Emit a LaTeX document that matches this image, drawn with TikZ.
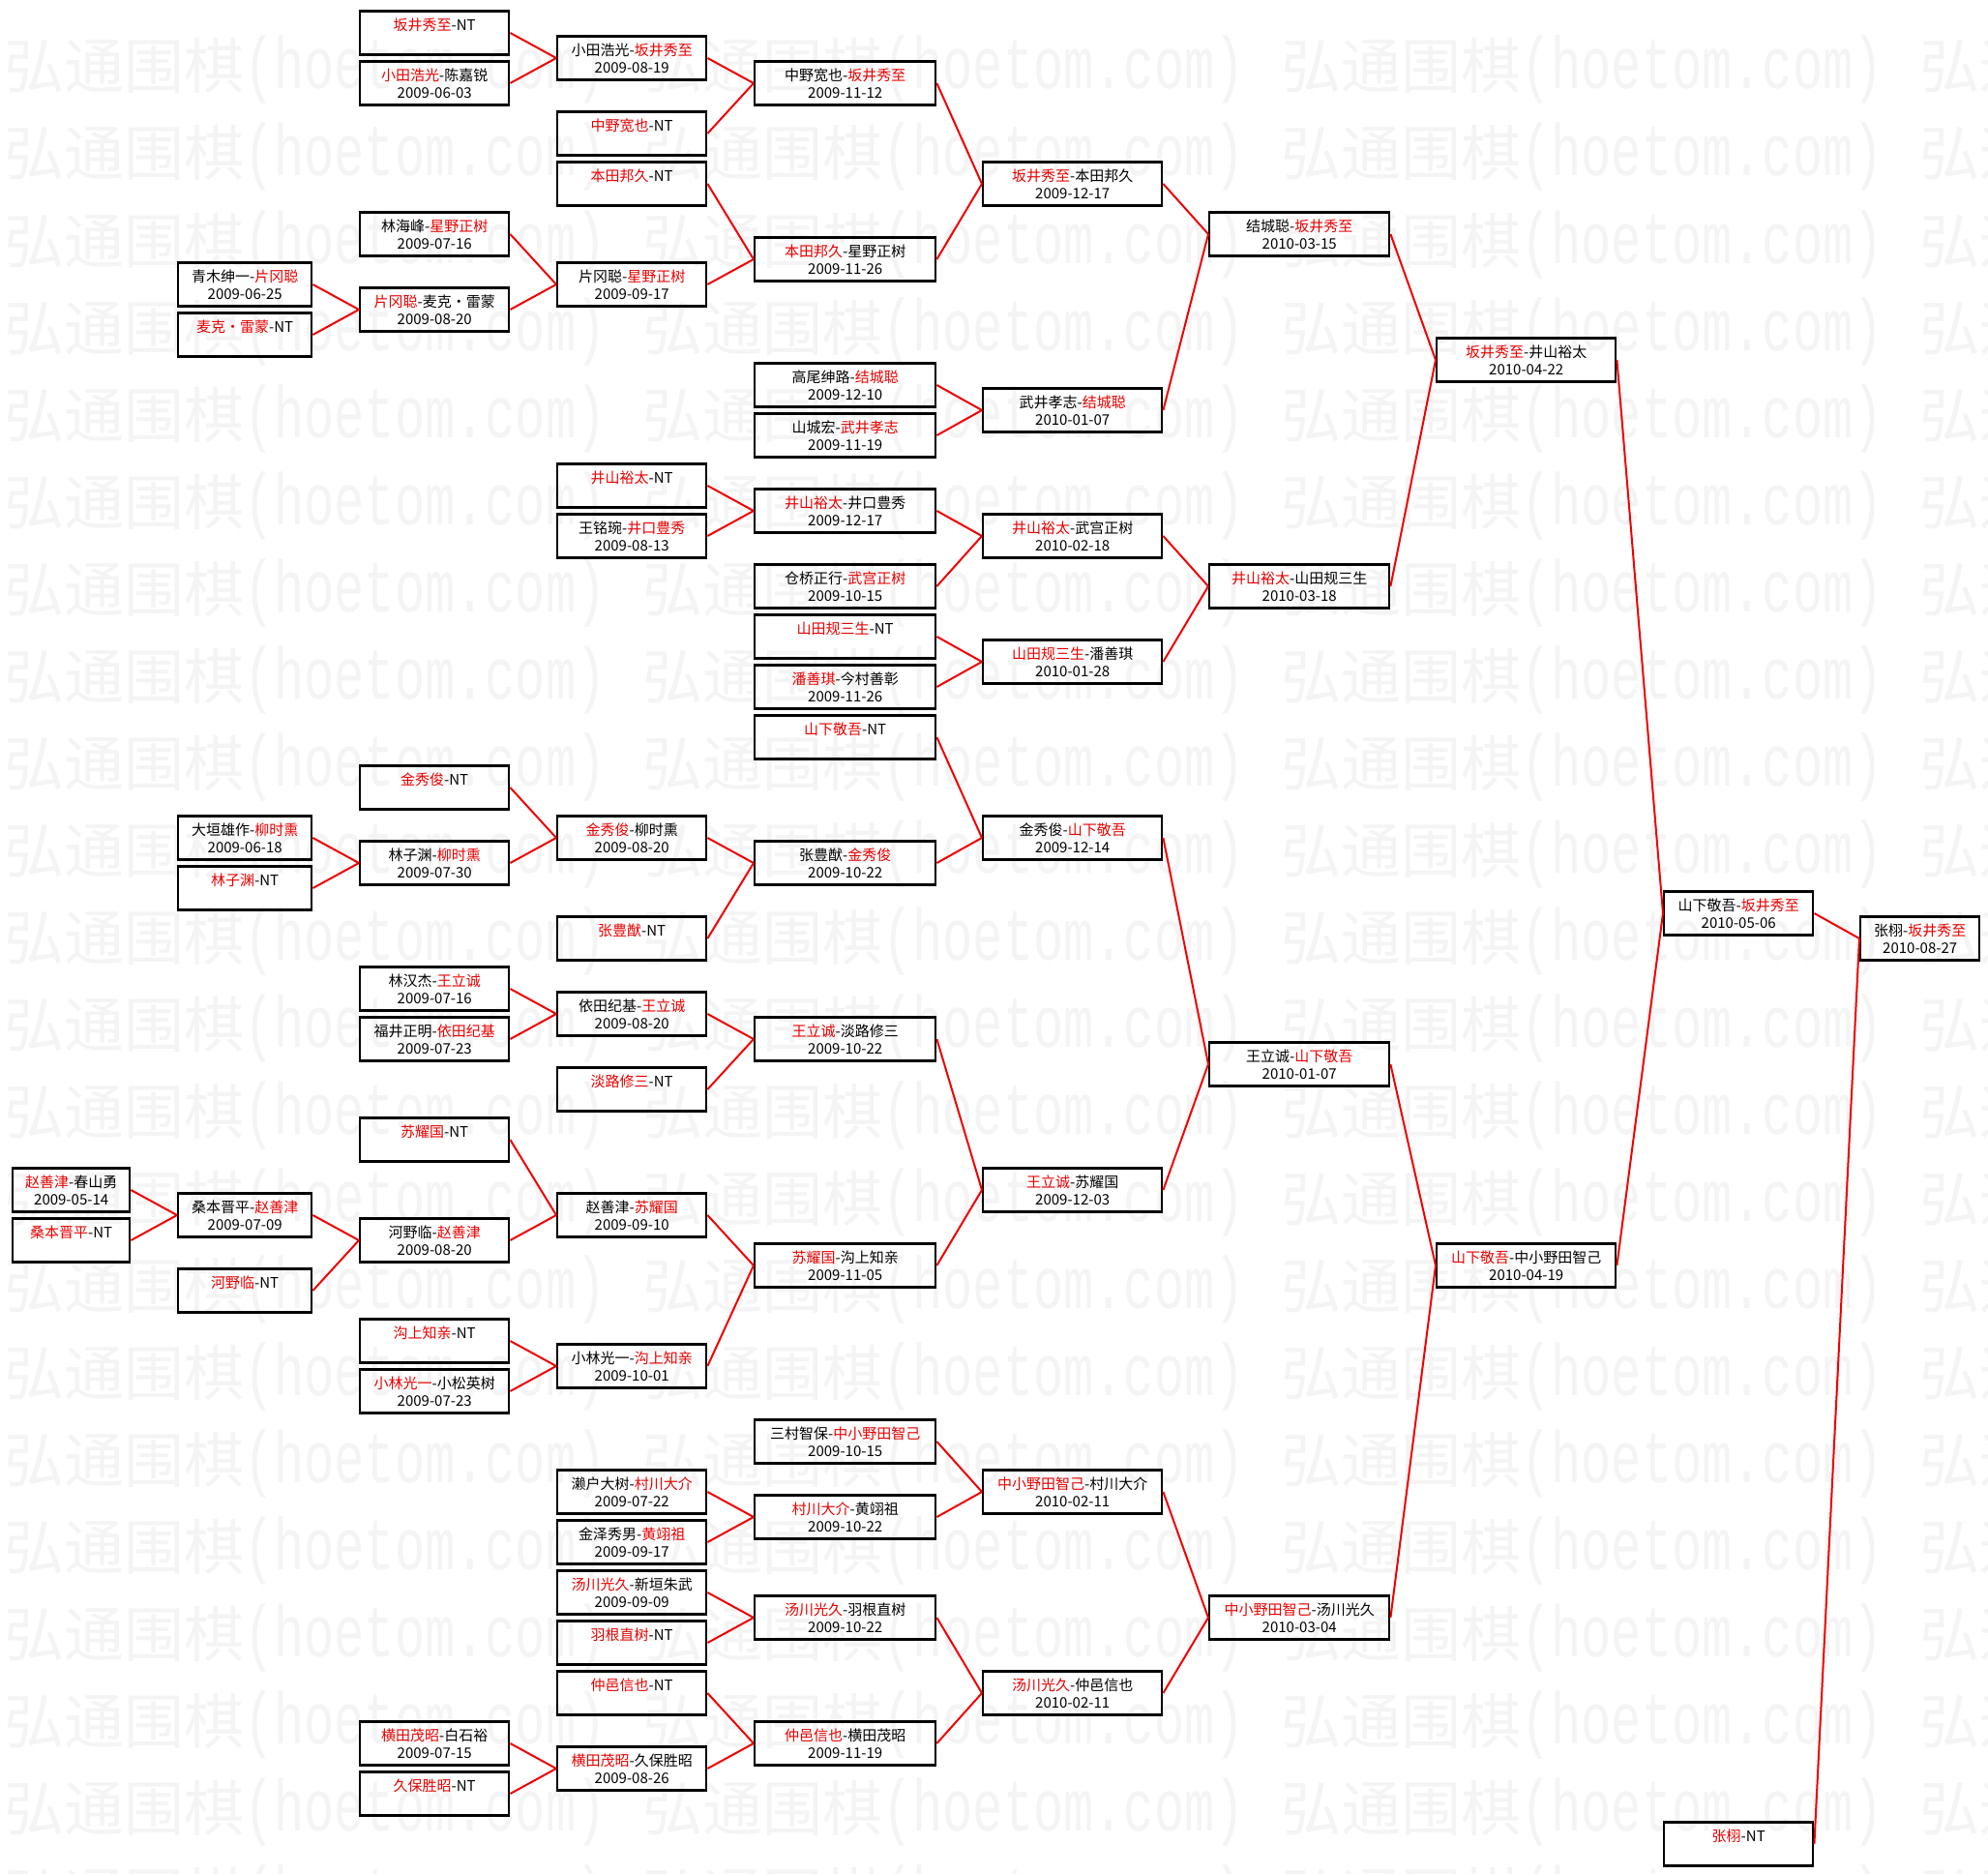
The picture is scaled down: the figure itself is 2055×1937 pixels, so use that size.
\documentclass[tikz,border=0pt]{standalone}
\usepackage{fontspec}
\usepackage{graphicx}
\setmainfont{Noto Sans CJK SC}
\newfontfamily\wmmono{Liberation Mono}
\definecolor{win}{RGB}{232,0,0}
\definecolor{lred}{RGB}{240,0,0}
\definecolor{wmgray}{RGB}{244,244,244}
\newcommand\W[1]{\textcolor{win}{#1}}
\newcommand\wmtext{{\fontsize{62pt}{62pt}\selectfont 弘通围棋}{\wmmono\fontsize{52pt}{52pt}\selectfont\scalebox{1}[1.45]{(hoetom.com)}}}
\newcommand\gm[6]{%
  \node[gmbox, minimum width=#4pt, anchor=north west] (#1) at (#2,{10.3+26*#3}) {};
  \node[gmtxt] (#1-t) at ([yshift=-21pt]#1.north) {#5};
  \node[gmtxt] (#1-d) at ([yshift=-39pt]#1.north) {#6};}
\newcommand\gn[5]{%
  \node[gmbox, minimum width=#4pt, anchor=north west] (#1) at (#2,{10.3+26*#3}) {};
  \node[gmtxt] (#1-t) at ([yshift=-21pt]#1.north) {#5};}
\begin{document}
\begin{tikzpicture}[x=1pt,y=-1pt,
  gmbox/.style={draw=black, line width=2.4pt, minimum height=45pt, inner sep=0pt},
  gmtxt/.style={anchor=base, inner sep=0pt, font=\fontsize{15pt}{18pt}\selectfont},
  conn/.style={draw=lred, line width=2pt},
  wm/.style={anchor=base west, inner sep=0pt, text=wmgray}]
\fill[white] (0,0) rectangle (2055,1937);
\useasboundingbox (0,0) rectangle (2055,1937);
\begin{scope}
\clip (0,0) rectangle (2055,1937);
\foreach \k in {0,...,21}{
  \foreach \j in {0,...,3}{
    \node[wm] (wm-\k-\j) at ({4+660*\j},{92+90*\k}) {\wmtext};
  }
}
\end{scope}
% column 0
\gm{a0}{12}{46}{121}{\W{赵善津}-春山勇}{2009-05-14}
\gn{a1}{12}{48}{121}{\W{桑本晋平}-NT}
% column 1
\gm{b0}{183}{10}{138}{青木绅一-\W{片冈聪}}{2009-06-25}
\gn{b1}{183}{12}{138}{\W{麦克·雷蒙}-NT}
\gm{b2}{183}{32}{138}{大垣雄作-\W{柳时熏}}{2009-06-18}
\gn{b3}{183}{34}{138}{\W{林子渊}-NT}
\gm{b4}{183}{47}{138}{桑本晋平-\W{赵善津}}{2009-07-09}
\gn{b5}{183}{50}{138}{\W{河野临}-NT}
% column 2
\gn{c0}{371}{0}{154}{\W{坂井秀至}-NT}
\gm{c1}{371}{2}{154}{\W{小田浩光}-陈嘉锐}{2009-06-03}
\gm{c2}{371}{8}{154}{林海峰-\W{星野正树}}{2009-07-16}
\gm{c3}{371}{11}{154}{\W{片冈聪}-麦克·雷蒙}{2009-08-20}
\gn{c4}{371}{30}{154}{\W{金秀俊}-NT}
\gm{c5}{371}{33}{154}{林子渊-\W{柳时熏}}{2009-07-30}
\gm{c6}{371}{38}{154}{林汉杰-\W{王立诚}}{2009-07-16}
\gm{c7}{371}{40}{154}{福井正明-\W{依田纪基}}{2009-07-23}
\gn{c8}{371}{44}{154}{\W{苏耀国}-NT}
\gm{c9}{371}{48}{154}{河野临-\W{赵善津}}{2009-08-20}
\gn{c10}{371}{52}{154}{\W{沟上知亲}-NT}
\gm{c11}{371}{54}{154}{\W{小林光一}-小松英树}{2009-07-23}
\gm{c12}{371}{68}{154}{\W{横田茂昭}-白石裕}{2009-07-15}
\gn{c13}{371}{70}{154}{\W{久保胜昭}-NT}
% column 3
\gm{d0}{575}{1}{154}{小田浩光-\W{坂井秀至}}{2009-08-19}
\gn{d1}{575}{4}{154}{\W{中野宽也}-NT}
\gn{d2}{575}{6}{154}{\W{本田邦久}-NT}
\gm{d3}{575}{10}{154}{片冈聪-\W{星野正树}}{2009-09-17}
\gn{d4}{575}{18}{154}{\W{井山裕太}-NT}
\gm{d5}{575}{20}{154}{王铭琬-\W{井口豊秀}}{2009-08-13}
\gm{d6}{575}{32}{154}{\W{金秀俊}-柳时熏}{2009-08-20}
\gn{d7}{575}{36}{154}{\W{张豊猷}-NT}
\gm{d8}{575}{39}{154}{依田纪基-\W{王立诚}}{2009-08-20}
\gn{d9}{575}{42}{154}{\W{淡路修三}-NT}
\gm{d10}{575}{47}{154}{赵善津-\W{苏耀国}}{2009-09-10}
\gm{d11}{575}{53}{154}{小林光一-\W{沟上知亲}}{2009-10-01}
\gm{d12}{575}{58}{154}{濑户大树-\W{村川大介}}{2009-07-22}
\gm{d13}{575}{60}{154}{金泽秀男-\W{黄翊祖}}{2009-09-17}
\gm{d14}{575}{62}{154}{\W{汤川光久}-新垣朱武}{2009-09-09}
\gn{d15}{575}{64}{154}{\W{羽根直树}-NT}
\gn{d16}{575}{66}{154}{\W{仲邑信也}-NT}
\gm{d17}{575}{69}{154}{\W{横田茂昭}-久保胜昭}{2009-08-26}
% column 4
\gm{e0}{779}{2}{187}{中野宽也-\W{坂井秀至}}{2009-11-12}
\gm{e1}{779}{9}{187}{\W{本田邦久}-星野正树}{2009-11-26}
\gm{e2}{779}{14}{187}{高尾绅路-\W{结城聪}}{2009-12-10}
\gm{e3}{779}{16}{187}{山城宏-\W{武井孝志}}{2009-11-19}
\gm{e4}{779}{19}{187}{\W{井山裕太}-井口豊秀}{2009-12-17}
\gm{e5}{779}{22}{187}{仓桥正行-\W{武宫正树}}{2009-10-15}
\gn{e6}{779}{24}{187}{\W{山田规三生}-NT}
\gm{e7}{779}{26}{187}{\W{潘善琪}-今村善彰}{2009-11-26}
\gn{e8}{779}{28}{187}{\W{山下敬吾}-NT}
\gm{e9}{779}{33}{187}{张豊猷-\W{金秀俊}}{2009-10-22}
\gm{e10}{779}{40}{187}{\W{王立诚}-淡路修三}{2009-10-22}
\gm{e11}{779}{49}{187}{\W{苏耀国}-沟上知亲}{2009-11-05}
\gm{e12}{779}{56}{187}{三村智保-\W{中小野田智己}}{2009-10-15}
\gm{e13}{779}{59}{187}{\W{村川大介}-黄翊祖}{2009-10-22}
\gm{e14}{779}{63}{187}{\W{汤川光久}-羽根直树}{2009-10-22}
\gm{e15}{779}{68}{187}{\W{仲邑信也}-横田茂昭}{2009-11-19}
% column 5
\gm{f0}{1015}{6}{185}{\W{坂井秀至}-本田邦久}{2009-12-17}
\gm{f1}{1015}{15}{185}{武井孝志-\W{结城聪}}{2010-01-07}
\gm{f2}{1015}{20}{185}{\W{井山裕太}-武宫正树}{2010-02-18}
\gm{f3}{1015}{25}{185}{\W{山田规三生}-潘善琪}{2010-01-28}
\gm{f4}{1015}{32}{185}{金秀俊-\W{山下敬吾}}{2009-12-14}
\gm{f5}{1015}{46}{185}{\W{王立诚}-苏耀国}{2009-12-03}
\gm{f6}{1015}{58}{185}{\W{中小野田智己}-村川大介}{2010-02-11}
\gm{f7}{1015}{66}{185}{\W{汤川光久}-仲邑信也}{2010-02-11}
% column 6
\gm{g0}{1249}{8}{186}{结城聪-\W{坂井秀至}}{2010-03-15}
\gm{g1}{1249}{22}{186}{\W{井山裕太}-山田规三生}{2010-03-18}
\gm{g2}{1249}{41}{186}{王立诚-\W{山下敬吾}}{2010-01-07}
\gm{g3}{1249}{63}{186}{\W{中小野田智己}-汤川光久}{2010-03-04}
% column 7
\gm{p0}{1484}{13}{185}{\W{坂井秀至}-井山裕太}{2010-04-22}
\gm{p1}{1484}{49}{185}{\W{山下敬吾}-中小野田智己}{2010-04-19}
% column 8
\gm{q0}{1719}{35}{154}{山下敬吾-\W{坂井秀至}}{2010-05-06}
\gn{q1}{1719}{72}{154}{\W{张栩}-NT}
% column 9
\gm{r0}{1922}{36}{123}{张栩-\W{坂井秀至}}{2010-08-27}
% connectors
\foreach \a/\b in {c0/d0,c1/d0,d0/e0,d1/e0,d2/e1,d3/e1,c2/d3,c3/d3,b0/c3,b1/c3,
  e0/f0,e1/f0,e2/f1,e3/f1,f0/g0,f1/g0,d4/e4,d5/e4,e4/f2,e5/f2,e6/f3,e7/f3,
  f2/g1,f3/g1,g0/p0,g1/p0,p0/q0,p1/q0,q0/r0,q1/r0,e8/f4,e9/f4,c4/d6,c5/d6,
  b2/c5,b3/c5,d6/e9,d7/e9,f4/g2,f5/g2,c6/d8,c7/d8,d8/e10,d9/e10,e10/f5,e11/f5,
  c8/d10,c9/d10,a0/b4,a1/b4,b4/c9,b5/c9,d10/e11,d11/e11,c10/d11,c11/d11,
  g2/p1,g3/p1,e12/f6,e13/f6,d12/e13,d13/e13,d14/e14,d15/e14,e14/f7,e15/f7,
  d16/e15,d17/e15,c12/d17,c13/d17,f6/g3,f7/g3}
  \draw[conn] (\a.east) -- (\b.west);
\end{tikzpicture}
\end{document}
